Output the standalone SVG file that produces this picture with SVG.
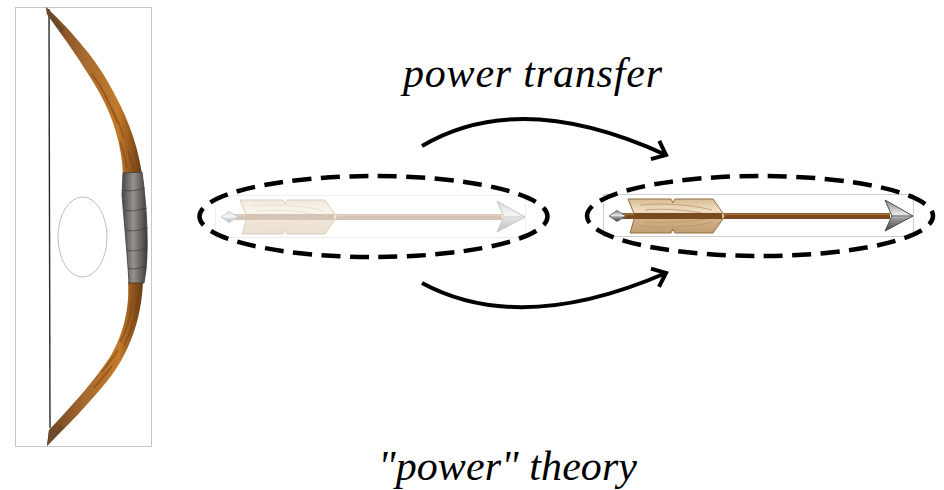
<svg xmlns="http://www.w3.org/2000/svg" xmlns:xlink="http://www.w3.org/1999/xlink" width="944" height="490" viewBox="0 0 944 490">
<style>
  .lbl { font-family: "Liberation Serif", "Times New Roman", serif; font-style: italic; font-size: 42px; fill: #000; }
  .dash { fill: none; stroke: #000; stroke-width: 4.5; stroke-dasharray: 19 9.46; stroke-dashoffset: 9.5; }
  .conn { fill: none; stroke: #000; stroke-width: 4; marker-end: url(#chev); }
  .grain { fill: none; stroke: #7a3f12; stroke-width: 1.6; opacity: 0.55; }
</style>
<defs>
  <marker id="chev" markerUnits="userSpaceOnUse" markerWidth="30" markerHeight="30" viewBox="-15 -15 30 30" refX="0" refY="0" orient="auto">
    <path d="M-12,-10 L0,0 L-12,10" fill="none" stroke="#000" stroke-width="4" stroke-linejoin="miter"/>
  </marker>
  <linearGradient id="limb" x1="0" y1="0" x2="1" y2="0">
    <stop offset="0" stop-color="#6e4220"/>
    <stop offset="0.4" stop-color="#a86a30"/>
    <stop offset="0.75" stop-color="#c27a2a"/>
    <stop offset="1" stop-color="#6a3a14"/>
  </linearGradient>
  <linearGradient id="grip" x1="0" y1="0" x2="1" y2="0">
    <stop offset="0" stop-color="#4a4644"/>
    <stop offset="0.45" stop-color="#96918c"/>
    <stop offset="0.7" stop-color="#6e6966"/>
    <stop offset="1" stop-color="#3e3b39"/>
  </linearGradient>
  <linearGradient id="feather" x1="0" y1="0" x2="0" y2="1">
    <stop offset="0" stop-color="#d9bc92"/>
    <stop offset="0.35" stop-color="#f0e0c6"/>
    <stop offset="0.6" stop-color="#d2b186"/>
    <stop offset="1" stop-color="#c19e72"/>
  </linearGradient>
  <linearGradient id="metal" x1="0" y1="0" x2="0" y2="1">
    <stop offset="0" stop-color="#8a8a8a"/>
    <stop offset="0.45" stop-color="#e6e6e6"/>
    <stop offset="0.6" stop-color="#9a9a9a"/>
    <stop offset="1" stop-color="#444"/>
  </linearGradient>
  <g id="arrowArt">
    <rect x="603.5" y="194.5" width="310" height="42" fill="#fff" stroke="#cfcfcf" stroke-width="1"/>
    <rect x="622" y="213" width="268" height="6" fill="#7a4a1f"/>
    <rect x="622" y="213.5" width="268" height="1.6" fill="#a8733c"/>
    <path d="M628,199 L671,199 L673,203 L675,199 L713,199 L725,216 L713,233 L675,233 L673,229 L671,233 L630,233 L635,216 Z" fill="url(#feather)" stroke="#8e6d45" stroke-width="1"/>
    <path d="M640,205 C660,203 690,204 712,210 M645,210 C665,208 690,210 705,214 M640,226 C660,228 690,228 712,222 M645,222 C665,223 690,222 705,219" fill="none" stroke="#b8966a" stroke-width="1" opacity="0.8"/>
    <rect x="634" y="213" width="88" height="6" fill="#7a4a1f"/>
    <path d="M609,216 L617,210.5 L626,216 L617,221.5 Z" fill="url(#metal)" stroke="#555" stroke-width="0.8"/>
    <path d="M885,200 L913,216 L885,231 L892,216 Z" fill="url(#metal)" stroke="#4a4a4a" stroke-width="1"/>
    <path d="M892,216 L913,216" stroke="#555" stroke-width="0.8"/>
  </g>
</defs>
<rect width="944" height="490" fill="#fff"/>
<g id="bow">
  <rect x="15.5" y="7.5" width="136" height="439" fill="#fff" stroke="#c8c8c8" stroke-width="1"/>
  <line x1="49" y1="9" x2="50" y2="428" stroke="#2a2a2a" stroke-width="1.4"/>
  <path d="M46,7 C60,20 90,50 108,82 C125,112 137,140 142,174 L123,175 C122,145 113,117 99,92 C83,64 64,38 47,14 Z" fill="url(#limb)"/>
  <path d="M46,7 C52,14 58,22 64,30 L61,33 C56,26 51,20 47,14 Z" fill="#6b4a2c"/>
  <path class="grain" d="M92,74 C98,82 103,90 107,98 M104,94 C110,104 114,114 118,124 M112,108 C117,118 121,128 124,138 M120,142 C123,150 125,158 127,168 M128,150 C130,158 132,164 134,170"/>
  <path d="M143,280 C142,320 128,355 108,380 C88,405 65,428 47,446 L49,430 C70,408 95,380 110,357 C122,337 130,310 128,282 Z" fill="url(#limb)"/>
  <path d="M47,446 C52,440 58,434 64,428 L61,425 C56,430 52,434 49,430 Z" fill="#6b4a2c"/>
  <path class="grain" d="M132,300 C131,315 127,330 120,342 M138,295 C137,312 132,330 124,345 M118,350 C113,358 108,364 102,372 M112,366 C106,374 100,381 94,388"/>
  <path d="M123,173 L142,172 C146,200 149,240 146,270 L144,283 L129,283 C127,250 124,220 122,195 Z" fill="url(#grip)" stroke="#3a3836" stroke-width="0.8"/>
  <path d="M124,190 C130,192 138,190 145,188 M125,210 C131,212 139,210 147,208 M126,230 C132,232 140,230 148,228 M127,250 C133,252 141,250 147,248 M128,268 C134,270 141,268 146,266" fill="none" stroke="#3a3836" stroke-width="1" opacity="0.7"/>
  <ellipse cx="82.5" cy="237" rx="24.5" ry="40" fill="none" stroke="#bdbdbd" stroke-width="1"/>
</g>
<g id="arrow-before">
  <use xlink:href="#arrowArt" href="#arrowArt" transform="translate(-388,1)" opacity="0.32"/>
  <ellipse class="dash" cx="373.5" cy="216.5" rx="174" ry="40.5"/>
</g>
<g id="arrow-after">
  <use xlink:href="#arrowArt" href="#arrowArt"/>
  <ellipse class="dash" cx="760" cy="216" rx="173" ry="40"/>
</g>
<g id="connectors">
  <path class="conn" d="M422,146 Q520,88 666,155"/>
  <path class="conn" d="M422,283 Q520,336 666,273"/>
</g>
<g id="labels">
  <text class="lbl" x="403" y="87" textLength="259">power transfer</text>
  <text class="lbl" x="378" y="480" textLength="259">"power" theory</text>
</g>
</svg>
